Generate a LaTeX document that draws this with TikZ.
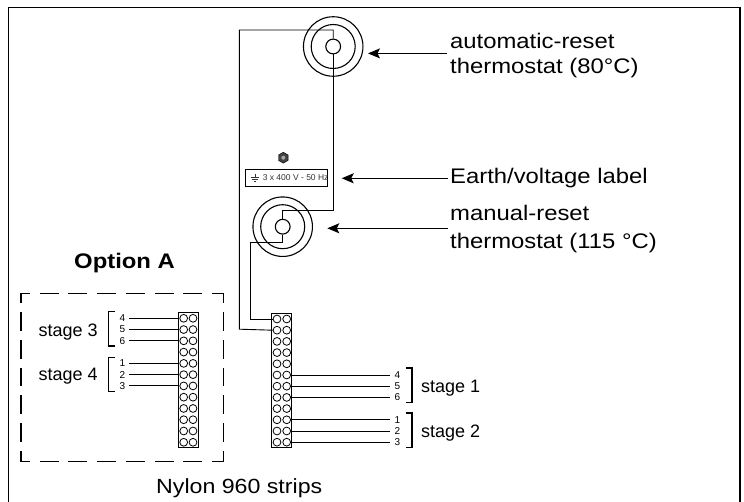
\documentclass[tikz,border=0pt]{standalone}
\usepackage{fontspec}
\setmainfont{Liberation Sans}
\usetikzlibrary{calc,arrows,arrows.meta,shapes}
\tikzset{>={Stealth[length=12,width=10,inset=2.5]}}
\tikzset{wire/.style={line width=0.9}}
\tikzset{ring/.style={draw, circle, inner sep=0, line width=1.1}}
\tikzset{bracket/.style={line width=1.3}}
\tikzset{pin/.style={draw, circle, inner sep=0, minimum size=7.8, line width=0.8}}
\tikzset{num/.style={font=\fontsize{10}{11}\selectfont, inner sep=0}}
\tikzset{strip/.style={draw, inner sep=0, minimum width=20.4, line width=0.9}}
\tikzset{lab/.style={font=\fontsize{21.1}{24}\selectfont, inner sep=0, anchor=base west}}
\tikzset{stagelab/.style={font=\fontsize{18}{20}\selectfont, inner sep=0}}
\tikzset{dashbox/.style={line width=1.3, line cap=rect}}
\tikzset{dashh/.style={dash pattern=on 17.7 off 11, dash phase=9.3}}
\tikzset{dashv/.style={dash pattern=on 17.4 off 10.35, dash phase=8.3}}
\newcommand{\wide}[1]{\scalebox{1.13}[1]{#1}}
\begin{document}
\begin{tikzpicture}[x=1pt,y=-1pt]
\useasboundingbox (0,0) rectangle (744,502);
\draw[line width=1.1] (8.5,502) -- (8.5,7.3) -- (740,7.3) -- (740,502);
% thermostats
\node[ring, minimum size=59.5] (topouter) at (333.2,46.5) {};
\node[ring, minimum size=44] (topmid) at (333.2,46.5) {};
\node[ring, minimum size=14.8] (topin) at (333.2,46.5) {};
\node[ring, minimum size=59.5] (lowouter) at (282.7,226.7) {};
\node[ring, minimum size=44] (lowmid) at (282.7,226.7) {};
\node[ring, minimum size=14.8] (lowin) at (282.7,226.7) {};
% strip on the right
\node[strip, minimum height=134.4] (stripb) at (281.65,380.5) {};
\foreach \r in {1,...,12} {
  \node[pin] (a\r) at (277,{319+11.2*(\r-1)}) {};
  \node[pin] (b\r) at (286.7,{319+11.2*(\r-1)}) {};
}
% wires
\draw[wire] (topin.north) -- (333.2,30) -- (239.3,30) -- (239.3,329.2) -- (a2.west);
\draw[wire] (topin.south) -- (333.2,210) -- (282.7,210) -- (lowin.north);
\draw[wire] (lowin.south) -- (282.7,242.7) -- (250,242.7) -- (250,319) -- (a1.west);
% stages 1 and 2
\foreach \r/\n in {6/4,7/5,8/6,10/1,11/2,12/3} {
  \node[num] (n\n) at (397.3,{319+11.2*(\r-1)}) {\n};
  \coordinate (e\n) at (390,{319+11.2*(\r-1)});
  \draw[wire] (b\r.east) -- (e\n);
}
\draw[bracket] (405.7,368) -- (412,368) -- (412,402.7) -- (405.7,402.7);
\draw[bracket] (405.7,413) -- (412,413) -- (412,447.7) -- (405.7,447.7);
\node[stagelab, anchor=base west] (stageone) at (421,392.3) {stage 1};
\node[stagelab, anchor=base west] (stagetwo) at (421,437.7) {stage 2};
% option A
\node[font=\fontsize{21.1}{24}\selectfont\bfseries, inner sep=0, anchor=base west] (optiona) at (74,268.3) {\wide{Option A}};
\draw[dashbox, dashh] (21,293.3) -- (223.3,293.3);
\draw[dashbox, dashh] (21,461.7) -- (223.3,461.7);
\draw[dashbox, dashv] (21,293.3) -- (21,461.7);
\draw[dashbox, dashv] (223.3,293.3) -- (223.3,461.7);
\node[strip, minimum height=134.6] (stripa) at (188.3,380) {};
\foreach \r in {1,...,12} {
  \node[pin] (c\r) at (183.7,{318.3+11.27*(\r-1)}) {};
  \node[pin] (d\r) at (193,{318.3+11.27*(\r-1)}) {};
}
\foreach \r/\n in {1/4,2/5,3/6,5/1,6/2,7/3} {
  \node[num] (m\n) at (122.3,{318.3+11.27*(\r-1)}) {\n};
  \coordinate (f\n) at (129.3,{318.3+11.27*(\r-1)});
  \draw[wire] (f\n) -- (c\r.west);
}
\draw[bracket] (115,311.7) -- (108.7,311.7) -- (108.7,346) -- (115,346);
\draw[bracket] (115,357.3) -- (108.7,357.3) -- (108.7,391.7) -- (115,391.7);
\node[stagelab, anchor=base west] (stagethree) at (38.3,336.7) {stage 3};
\node[stagelab, anchor=base west] (stagefour) at (38.3,380.7) {stage 4};
% plate
\node[draw, inner sep=0, minimum width=82, minimum height=17.4, line width=0.9] (plate) at (286.7,178) {};
\node[font=\fontsize{8.5}{10}\selectfont, inner sep=0, anchor=west, text=black!80] (platetext) at (262.6,178) {3 x 400 V - 50 Hz};
\draw[line width=0.8, black!80] (255,174) -- (255,177);
\draw[line width=0.9, black!80] (250.7,177) -- (259.3,177);
\draw[line width=0.8, black!80] (252.2,179) -- (257.8,179);
\draw[line width=0.8, black!80] (253.7,181) -- (256.3,181);
\node[draw, regular polygon, regular polygon sides=6, shape border rotate=30, fill=black!75, inner sep=0, minimum size=11] (nut) at (283.3,157.7) {};
\node[fill=black!35, circle, inner sep=0, minimum size=4] (nuthole) at (283.3,157.7) {};
% labels
\node[lab] (lbautoa) at (450,48.3) {\wide{automatic-reset}};
\node[lab] (lbautob) at (450,73.3) {\wide{thermostat (80°C)}};
\node[lab] (lbearth) at (450,184) {\wide{Earth/voltage label}};
\node[lab] (lbmana) at (450,220.7) {\wide{manual-reset}};
\node[lab] (lbmanb) at (450,248.3) {\wide{thermostat (115 °C)}};
\node[font=\fontsize{20.5}{24}\selectfont, inner sep=0, anchor=base west] (lbstrip) at (156,493.3) {\wide{Nylon 960 strips}};
\coordinate (autotail) at (446.7,53.4);
\coordinate (autotip) at (368,53.4);
\coordinate (earthtail) at (448,178.3);
\coordinate (earthtip) at (341.7,178.3);
\coordinate (mantail) at (448,228.3);
\coordinate (mantip) at (327.3,228.3);
\draw[->, line width=1.1] (autotail) -- (autotip);
\draw[->, line width=1.1] (earthtail) -- (earthtip);
\draw[->, line width=1.1] (mantail) -- (mantip);
\end{tikzpicture}
\end{document}
